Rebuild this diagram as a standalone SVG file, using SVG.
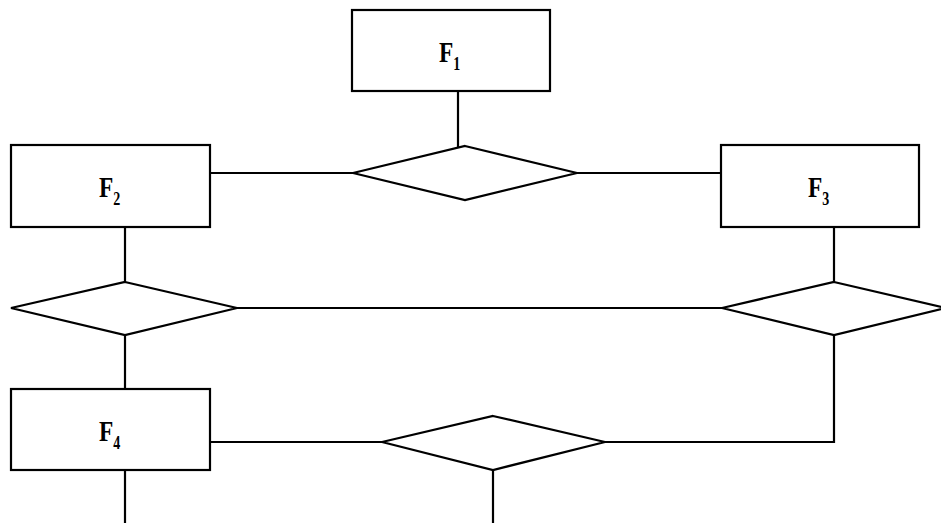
<svg xmlns="http://www.w3.org/2000/svg" width="941" height="525" viewBox="0 0 941 525">
<style>
.box{fill:#fff;stroke:#000;stroke-width:2.2}
.dia{fill:#fff;stroke:#000;stroke-width:2.2}
.con{fill:none;stroke:#000;stroke-width:2.2}
.lbl{font-family:"Liberation Serif","Times New Roman",serif;font-weight:bold;font-size:30px;fill:#000}
.sub{font-family:"Liberation Serif","Times New Roman",serif;font-weight:bold;font-size:18px;fill:#000}
</style>
<rect width="941" height="525" fill="#fff"/>
<g id="connectors">
<path class="con" d="M458,91 V150"/>
<path class="con" d="M210,173 H353"/>
<path class="con" d="M577,173 H721"/>
<path class="con" d="M125,227 V282"/>
<path class="con" d="M834,227 V282"/>
<path class="con" d="M237,308 H722"/>
<path class="con" d="M125,335 V389"/>
<path class="con" d="M834,335 V442 H605"/>
<path class="con" d="M210,442 H382"/>
<path class="con" d="M125,470 V523"/>
<path class="con" d="M493,470 V523"/>
</g>
<g id="F1">
<rect class="box" x="352" y="10" width="198" height="81"/>
<text transform="translate(439,62) scale(0.78,1)"><tspan class="lbl">F</tspan><tspan class="sub" dy="8">1</tspan></text>
</g>
<g id="R1">
<polygon class="dia" points="465,146 577,173 465,200 353,173"/>
</g>
<g id="F2">
<rect class="box" x="11" y="145" width="199" height="82"/>
<text transform="translate(99,197) scale(0.78,1)"><tspan class="lbl">F</tspan><tspan class="sub" dy="8">2</tspan></text>
</g>
<g id="F3">
<rect class="box" x="721" y="145" width="198" height="82"/>
<text transform="translate(808,197) scale(0.78,1)"><tspan class="lbl">F</tspan><tspan class="sub" dy="8">3</tspan></text>
</g>
<g id="R2">
<polygon class="dia" points="125,282 237,308 125,335 11,308"/>
</g>
<g id="R3">
<polygon class="dia" points="834,282 946,308 834,335 722,308"/>
</g>
<g id="F4">
<rect class="box" x="11" y="389" width="199" height="81"/>
<text transform="translate(99,441) scale(0.78,1)"><tspan class="lbl">F</tspan><tspan class="sub" dy="8">4</tspan></text>
</g>
<g id="R4">
<polygon class="dia" points="493,416 605,442 493,470 382,442"/>
</g>
</svg>
